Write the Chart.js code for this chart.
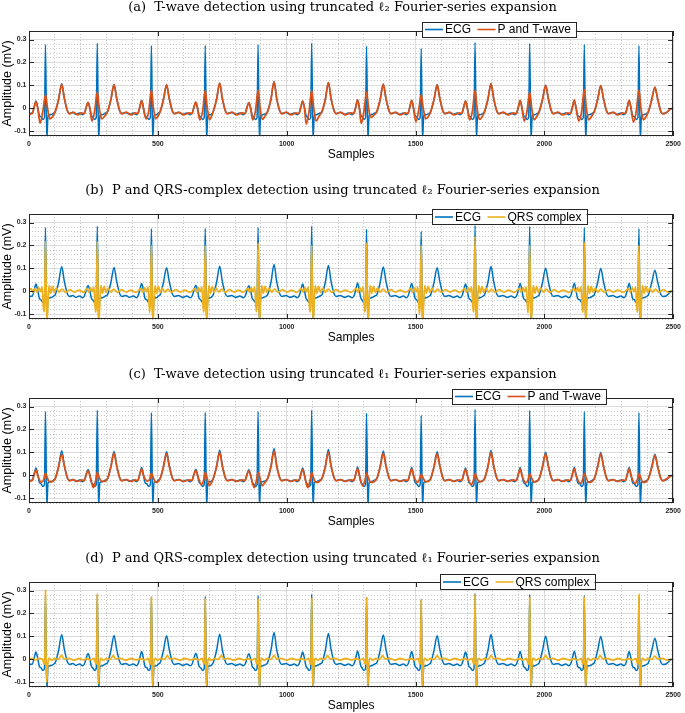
<!DOCTYPE html>
<html><head><meta charset="utf-8">
<script src="https://cdn.jsdelivr.net/npm/chart.js@4.4.1/dist/chart.umd.min.js"></script>
<style>
html,body{margin:0;padding:0;background:#fff;overflow:hidden;width:685px;height:713px;}
.p{position:absolute;left:0;width:685px;height:162px;}
canvas{display:block;}
</style></head><body>
<div class="p" style="top:0px"><canvas id="c0" width="685" height="162" style="width:685px;height:162px"></canvas></div>
<div class="p" style="top:183px"><canvas id="c1" width="685" height="162" style="width:685px;height:162px"></canvas></div>
<div class="p" style="top:367px"><canvas id="c2" width="685" height="162" style="width:685px;height:162px"></canvas></div>
<div class="p" style="top:551px"><canvas id="c3" width="685" height="162" style="width:685px;height:162px"></canvas></div>
<script>
// ---------- data ----------
const panelTitles = [
  '(a)  T-wave detection using truncated \u2113\u2082 Fourier-series expansion',
  '(b)  P and QRS-complex detection using truncated \u2113\u2082 Fourier-series expansion',
  '(c)  T-wave detection using truncated \u2113\u2081 Fourier-series expansion',
  '(d)  P and QRS-complex detection using truncated \u2113\u2081 Fourier-series expansion'
];
const seriesNames = ['ECG', 'P and T-wave', 'QRS complex'];
const xTicks = [0, 500, 1000, 1500, 2000, 2500];
const xTickLabels = ['0', '500', '1000', '1500', '2000', '2500'];
const yTicks = [-0.1, 0, 0.1, 0.2, 0.3];
const yTickLabels = ['-0.1', '0', '0.1', '0.2', '0.3'];
const xLabel = 'Samples';
const yLabel = 'Amplitude (mV)';

// [sample, mV]
const ecg = [
[0,-0.022],[13,-0.02],[20,0.006],[27,0.032],[34,0.004],[40,-0.03],[46,-0.036],[54,-0.048],[60,-0.04],[64,0.278],[69,-0.14],[74,-0.03],[84,-0.027],[96,-0.02],[102,-0.014],[115,0.04],[127,0.107],[137,0.045],[149,-0.01],[157,-0.022],[170,-0.018],[182,-0.026],[196,-0.02],[208,-0.027],
[215,-0.02],[222,0.005],[229,0.026],[236,0.004],[242,-0.03],[247,-0.036],[255,-0.048],[261,-0.04],[265,0.284],[270,-0.14],[275,-0.03],[285,-0.027],[297,-0.02],[305,-0.014],[318,0.04],[330,0.104],[340,0.045],[352,-0.01],[360,-0.022],[375,-0.018],[390,-0.026],[405,-0.02],[418,-0.027],
[423,-0.02],[430,0.006],[437,0.035],[444,0.004],[450,-0.03],[457,-0.036],[465,-0.048],[471,-0.04],[475,0.274],[480,-0.14],[485,-0.03],[495,-0.027],[502,-0.02],[509,-0.014],[522,0.04],[534,0.103],[544,0.045],[556,-0.01],[564,-0.022],[580,-0.018],[596,-0.026],[612,-0.02],[626,-0.027],
[633,-0.02],[640,0.005],[647,0.027],[654,0.004],[660,-0.03],[666,-0.036],[674,-0.048],[680,-0.04],[684,0.275],[689,-0.14],[694,-0.03],[704,-0.027],[712,-0.02],[715,-0.014],[728,0.04],[740,0.11],[750,0.045],[762,-0.01],[770,-0.022],[786,-0.018],[802,-0.026],[818,-0.02],[832,-0.027],
[839,-0.02],[846,0.005],[853,0.025],[860,0.004],[866,-0.03],[871,-0.036],[879,-0.048],[885,-0.04],[889,0.278],[894,-0.14],[899,-0.03],[909,-0.027],[921,-0.02],[926,-0.014],[939,0.04],[951,0.117],[961,0.045],[973,-0.01],[981,-0.022],[997,-0.018],[1013,-0.026],[1029,-0.02],[1041,-0.027],
[1048,-0.02],[1055,0.006],[1062,0.032],[1069,0.004],[1075,-0.03],[1079,-0.036],[1087,-0.048],[1093,-0.04],[1097,0.284],[1102,-0.14],[1107,-0.03],[1117,-0.027],[1129,-0.02],[1137,-0.014],[1150,0.04],[1162,0.113],[1172,0.045],[1184,-0.01],[1192,-0.022],[1208,-0.018],[1224,-0.026],[1240,-0.02],[1254,-0.027],
[1261,-0.02],[1268,0.006],[1275,0.037],[1282,0.004],[1288,-0.03],[1292,-0.036],[1300,-0.048],[1306,-0.04],[1310,0.271],[1315,-0.14],[1320,-0.03],[1330,-0.027],[1342,-0.02],[1350,-0.014],[1363,0.04],[1375,0.106],[1385,0.045],[1397,-0.01],[1405,-0.022],[1421,-0.018],[1437,-0.026],[1453,-0.02],[1464,-0.027],
[1471,-0.02],[1478,0.006],[1485,0.035],[1492,0.004],[1498,-0.03],[1504,-0.036],[1512,-0.048],[1518,-0.04],[1522,0.262],[1527,-0.14],[1532,-0.03],[1542,-0.027],[1554,-0.02],[1559,-0.014],[1572,0.04],[1584,0.103],[1594,0.045],[1606,-0.01],[1614,-0.022],[1630,-0.018],[1646,-0.026],[1662,-0.02],[1673,-0.027],
[1680,-0.02],[1687,0.006],[1694,0.032],[1701,0.004],[1707,-0.03],[1713,-0.036],[1721,-0.048],[1727,-0.04],[1731,0.288],[1736,-0.14],[1741,-0.03],[1751,-0.027],[1763,-0.02],[1768,-0.014],[1781,0.04],[1793,0.108],[1803,0.045],[1815,-0.01],[1823,-0.022],[1839,-0.018],[1855,-0.026],[1871,-0.02],[1885,-0.027],
[1892,-0.02],[1899,0.006],[1906,0.035],[1913,0.004],[1919,-0.03],[1925,-0.036],[1933,-0.048],[1939,-0.04],[1943,0.283],[1948,-0.14],[1953,-0.03],[1963,-0.027],[1975,-0.02],[1980,-0.014],[1993,0.04],[2005,0.101],[2015,0.045],[2027,-0.01],[2035,-0.022],[2051,-0.018],[2067,-0.026],[2083,-0.02],[2095,-0.027],
[2102,-0.02],[2109,0.006],[2116,0.036],[2123,0.004],[2129,-0.03],[2137,-0.036],[2145,-0.048],[2151,-0.04],[2155,0.278],[2160,-0.14],[2165,-0.03],[2175,-0.027],[2187,-0.02],[2194,-0.014],[2207,0.04],[2219,0.1],[2229,0.045],[2241,-0.01],[2249,-0.022],[2265,-0.018],[2281,-0.026],[2297,-0.02],[2308,-0.027],
[2315,-0.02],[2322,0.006],[2329,0.035],[2336,0.004],[2342,-0.03],[2349,-0.036],[2357,-0.048],[2363,-0.04],[2367,0.274],[2372,-0.14],[2377,-0.03],[2387,-0.027],[2399,-0.02],[2404,-0.014],[2417,0.04],[2429,0.092],[2439,0.045],[2451,-0.01],[2459,-0.022],[2472,-0.02],[2484,-0.008],[2492,0.0],[2500,-0.002]
];

const ptWaveL2 = [
[0,-0.025],[13,-0.022],[20,0.006],[27,0.03],[34,0.0],[43,-0.064],[54,-0.012],[64,0.06],[72,0.0],[81,-0.046],[92,-0.035],[102,-0.013],[115,0.04],[127,0.105],[137,0.045],[149,-0.01],[157,-0.024],[172,-0.016],[188,-0.028],[204,-0.02],
[215,-0.022],[222,0.005],[229,0.026],[236,0.0],[244,-0.055],[255,-0.01],[265,0.072],[273,0.0],[282,-0.045],[293,-0.035],[305,-0.013],[318,0.04],[330,0.103],[340,0.045],[352,-0.01],[360,-0.024],[378,-0.016],[396,-0.028],[412,-0.02],
[423,-0.022],[430,0.006],[437,0.034],[444,0.0],[454,-0.045],[465,-0.01],[475,0.082],[483,0.0],[492,-0.045],[500,-0.035],[509,-0.013],[522,0.04],[534,0.102],[544,0.045],[556,-0.01],[564,-0.024],[582,-0.016],[600,-0.028],[620,-0.02],
[633,-0.022],[640,0.005],[647,0.027],[654,0.0],[663,-0.05],[674,-0.01],[684,0.08],[692,0.0],[701,-0.05],[708,-0.035],[715,-0.013],[728,0.04],[740,0.11],[750,0.045],[762,-0.01],[770,-0.024],[788,-0.016],[806,-0.028],[826,-0.02],
[839,-0.022],[846,0.005],[853,0.025],[860,0.0],[868,-0.05],[879,-0.01],[889,0.08],[897,0.0],[906,-0.048],[915,-0.035],[926,-0.013],[939,0.04],[951,0.116],[961,0.045],[973,-0.01],[981,-0.024],[999,-0.016],[1017,-0.028],[1036,-0.02],
[1048,-0.022],[1055,0.006],[1062,0.032],[1069,0.0],[1076,-0.068],[1087,-0.012],[1097,0.08],[1105,0.0],[1114,-0.055],[1125,-0.035],[1137,-0.013],[1150,0.04],[1162,0.112],[1172,0.045],[1184,-0.01],[1192,-0.024],[1210,-0.016],[1228,-0.028],[1248,-0.02],
[1261,-0.022],[1268,0.006],[1275,0.037],[1282,0.0],[1289,-0.065],[1300,-0.012],[1310,0.072],[1318,0.0],[1327,-0.04],[1338,-0.03],[1350,-0.013],[1363,0.04],[1375,0.105],[1385,0.045],[1397,-0.01],[1405,-0.024],[1423,-0.016],[1441,-0.028],[1460,-0.02],
[1471,-0.022],[1478,0.006],[1485,0.035],[1492,0.0],[1501,-0.058],[1512,-0.01],[1522,0.06],[1530,0.0],[1539,-0.045],[1550,-0.035],[1559,-0.013],[1572,0.04],[1584,0.102],[1594,0.045],[1606,-0.01],[1614,-0.024],[1632,-0.016],[1650,-0.028],[1670,-0.02],
[1680,-0.022],[1687,0.006],[1694,0.032],[1701,0.0],[1710,-0.05],[1721,-0.01],[1731,0.08],[1739,0.0],[1748,-0.048],[1759,-0.035],[1768,-0.013],[1781,0.04],[1793,0.107],[1803,0.045],[1815,-0.01],[1823,-0.024],[1841,-0.016],[1859,-0.028],[1880,-0.02],
[1892,-0.022],[1899,0.006],[1906,0.035],[1913,0.0],[1922,-0.055],[1933,-0.01],[1943,0.072],[1951,0.0],[1960,-0.05],[1971,-0.035],[1980,-0.013],[1993,0.04],[2005,0.1],[2015,0.045],[2027,-0.01],[2035,-0.024],[2053,-0.016],[2071,-0.028],[2092,-0.02],
[2102,-0.022],[2109,0.006],[2116,0.036],[2123,0.0],[2134,-0.055],[2145,-0.01],[2155,0.082],[2163,0.0],[2172,-0.05],[2183,-0.035],[2194,-0.013],[2207,0.04],[2219,0.099],[2229,0.045],[2241,-0.01],[2249,-0.024],[2267,-0.016],[2285,-0.028],[2305,-0.02],
[2315,-0.022],[2322,0.006],[2329,0.035],[2336,0.0],[2346,-0.06],[2357,-0.01],[2367,0.08],[2375,0.0],[2384,-0.05],[2395,-0.035],[2404,-0.013],[2417,0.04],[2429,0.093],[2439,0.045],[2451,-0.01],[2459,-0.024],[2474,-0.018],[2488,-0.004],[2500,0.0]
];

const qrsL2 = [
[0,0.004],[8,0.012],[16,-0.003],[24,0.012],[31,-0.004],[38,0.016],[45,-0.002],[51,0.02],[57,-0.088],[61,-0.02],[64,0.218],[67,-0.03],[70,-0.135],[74,-0.035],[78,0.025],[84,-0.008],[91,0.022],[98,-0.004],[106,0.014],[116,-0.003],[128,0.01],[142,-0.004],[158,0.008],[176,-0.003],[194,0.006],[212,-0.004],
[225,0.012],[232,-0.004],[239,0.016],[246,-0.002],[252,0.02],[258,-0.09],[262,-0.02],[265,0.218],[268,-0.03],[271,-0.135],[275,-0.035],[279,0.025],[285,-0.008],[292,0.022],[299,-0.004],[307,0.014],[317,-0.003],[329,0.01],[343,-0.004],[359,0.008],[377,-0.003],[395,0.006],[415,-0.004],
[435,0.012],[442,-0.004],[449,0.016],[456,-0.002],[462,0.02],[468,-0.092],[472,-0.02],[475,0.2],[478,-0.03],[481,-0.135],[485,-0.035],[489,0.025],[495,-0.008],[502,0.022],[509,-0.004],[517,0.014],[527,-0.003],[539,0.01],[553,-0.004],[569,0.008],[587,-0.003],[605,0.006],[625,-0.004],
[644,0.012],[651,-0.004],[658,0.016],[665,-0.002],[671,0.02],[677,-0.09],[681,-0.02],[684,0.2],[687,-0.03],[690,-0.135],[694,-0.035],[698,0.025],[704,-0.008],[711,0.022],[718,-0.004],[726,0.014],[736,-0.003],[748,0.01],[762,-0.004],[778,0.008],[796,-0.003],[814,0.006],[830,-0.004],
[849,0.012],[856,-0.004],[863,0.016],[870,-0.002],[876,0.02],[882,-0.088],[886,-0.02],[889,0.21],[892,-0.03],[895,-0.135],[899,-0.035],[903,0.025],[909,-0.008],[916,0.022],[923,-0.004],[931,0.014],[941,-0.003],[953,0.01],[967,-0.004],[983,0.008],[1001,-0.003],[1019,0.006],[1039,-0.004],
[1057,0.012],[1064,-0.004],[1071,0.016],[1078,-0.002],[1084,0.02],[1090,-0.09],[1094,-0.02],[1097,0.2],[1100,-0.03],[1103,-0.135],[1107,-0.035],[1111,0.025],[1117,-0.008],[1124,0.022],[1131,-0.004],[1139,0.014],[1149,-0.003],[1161,0.01],[1175,-0.004],[1191,0.008],[1209,-0.003],[1227,0.006],[1250,-0.004],
[1270,0.012],[1277,-0.004],[1284,0.016],[1291,-0.002],[1297,0.02],[1303,-0.09],[1307,-0.02],[1310,0.21],[1313,-0.03],[1316,-0.135],[1320,-0.035],[1324,0.025],[1330,-0.008],[1337,0.022],[1344,-0.004],[1352,0.014],[1362,-0.003],[1374,0.01],[1388,-0.004],[1404,0.008],[1422,-0.003],[1440,0.006],[1462,-0.004],
[1482,0.012],[1489,-0.004],[1496,0.016],[1503,-0.002],[1509,0.02],[1515,-0.1],[1519,-0.02],[1522,0.2],[1525,-0.03],[1528,-0.135],[1532,-0.035],[1536,0.025],[1542,-0.008],[1549,0.022],[1556,-0.004],[1564,0.014],[1574,-0.003],[1586,0.01],[1600,-0.004],[1616,0.008],[1634,-0.003],[1652,0.006],[1671,-0.004],
[1691,0.012],[1698,-0.004],[1705,0.016],[1712,-0.002],[1718,0.02],[1724,-0.09],[1728,-0.02],[1731,0.24],[1734,-0.03],[1737,-0.135],[1741,-0.035],[1745,0.025],[1751,-0.008],[1758,0.022],[1765,-0.004],[1773,0.014],[1783,-0.003],[1795,0.01],[1809,-0.004],[1825,0.008],[1843,-0.003],[1861,0.006],[1883,-0.004],
[1903,0.012],[1910,-0.004],[1917,0.016],[1924,-0.002],[1930,0.02],[1936,-0.095],[1940,-0.02],[1943,0.2],[1946,-0.03],[1949,-0.135],[1953,-0.035],[1957,0.025],[1963,-0.008],[1970,0.022],[1977,-0.004],[1985,0.014],[1995,-0.003],[2007,0.01],[2021,-0.004],[2037,0.008],[2055,-0.003],[2073,0.006],[2095,-0.004],
[2115,0.012],[2122,-0.004],[2129,0.016],[2136,-0.002],[2142,0.02],[2148,-0.09],[2152,-0.02],[2155,0.215],[2158,-0.03],[2161,-0.135],[2165,-0.035],[2169,0.025],[2175,-0.008],[2182,0.022],[2189,-0.004],[2197,0.014],[2207,-0.003],[2219,0.01],[2233,-0.004],[2249,0.008],[2267,-0.003],[2285,0.006],[2307,-0.004],
[2327,0.012],[2334,-0.004],[2341,0.016],[2348,-0.002],[2354,0.02],[2360,-0.09],[2364,-0.02],[2367,0.2],[2370,-0.03],[2373,-0.135],[2377,-0.035],[2381,0.025],[2387,-0.008],[2394,0.022],[2401,-0.004],[2409,0.014],[2419,-0.003],[2431,0.01],[2445,-0.004],[2461,0.008],[2479,-0.003],[2500,0.006]
];

const ptWaveL1 = [
[0,-0.025],[13,-0.022],[20,0.005],[27,0.024],[34,0.0],[48,-0.03],[57,-0.018],[64,0.01],[71,-0.01],[80,-0.028],[92,-0.026],[102,-0.013],[115,0.038],[127,0.092],[137,0.042],[149,-0.01],[157,-0.024],[172,-0.018],[188,-0.026],[204,-0.02],
[215,-0.022],[222,0.004],[229,0.02],[236,0.0],[250,-0.053],[259,-0.02],[265,0.013],[272,-0.008],[281,-0.025],[293,-0.026],[305,-0.013],[318,0.038],[330,0.097],[340,0.042],[352,-0.01],[360,-0.024],[378,-0.018],[396,-0.026],[412,-0.02],
[423,-0.022],[430,0.005],[437,0.028],[444,0.0],[460,-0.025],[469,-0.015],[475,0.01],[482,-0.008],[491,-0.03],[500,-0.028],[509,-0.013],[522,0.038],[534,0.095],[544,0.042],[556,-0.01],[564,-0.024],[582,-0.018],[600,-0.026],[620,-0.02],
[633,-0.022],[640,0.004],[647,0.022],[654,0.0],[669,-0.04],[678,-0.02],[684,0.013],[691,-0.01],[700,-0.045],[708,-0.032],[715,-0.013],[728,0.038],[740,0.1],[750,0.042],[762,-0.01],[770,-0.024],[788,-0.018],[806,-0.026],[826,-0.02],
[839,-0.022],[846,0.004],[853,0.02],[860,0.0],[874,-0.053],[883,-0.02],[889,0.013],[896,-0.01],[905,-0.045],[915,-0.032],[926,-0.013],[939,0.038],[951,0.106],[961,0.042],[973,-0.01],[981,-0.024],[999,-0.018],[1017,-0.026],[1036,-0.02],
[1048,-0.022],[1055,0.005],[1062,0.026],[1069,0.0],[1082,-0.053],[1091,-0.02],[1097,0.013],[1104,-0.01],[1113,-0.03],[1125,-0.028],[1137,-0.013],[1150,0.038],[1162,0.101],[1172,0.042],[1184,-0.01],[1192,-0.024],[1210,-0.018],[1228,-0.026],[1248,-0.02],
[1261,-0.022],[1268,0.005],[1275,0.03],[1282,0.0],[1295,-0.045],[1304,-0.02],[1310,0.01],[1317,-0.01],[1326,-0.03],[1338,-0.028],[1350,-0.013],[1363,0.038],[1375,0.097],[1385,0.042],[1397,-0.01],[1405,-0.024],[1423,-0.018],[1441,-0.026],[1460,-0.02],
[1471,-0.022],[1478,0.005],[1485,0.028],[1492,0.0],[1507,-0.03],[1516,-0.015],[1522,0.005],[1529,-0.01],[1538,-0.027],[1550,-0.026],[1559,-0.013],[1572,0.038],[1584,0.095],[1594,0.042],[1606,-0.01],[1614,-0.024],[1632,-0.018],[1650,-0.026],[1670,-0.02],
[1680,-0.022],[1687,0.005],[1694,0.026],[1701,0.0],[1716,-0.04],[1725,-0.02],[1731,0.008],[1738,-0.01],[1747,-0.027],[1759,-0.026],[1768,-0.013],[1781,0.038],[1793,0.1],[1803,0.042],[1815,-0.01],[1823,-0.024],[1841,-0.018],[1859,-0.026],[1880,-0.02],
[1892,-0.022],[1899,0.005],[1906,0.028],[1913,0.0],[1928,-0.032],[1937,-0.018],[1943,0.008],[1950,-0.01],[1959,-0.028],[1971,-0.026],[1980,-0.013],[1993,0.038],[2005,0.094],[2015,0.042],[2027,-0.01],[2035,-0.024],[2053,-0.018],[2071,-0.026],[2092,-0.02],
[2102,-0.022],[2109,0.005],[2116,0.029],[2123,0.0],[2140,-0.035],[2149,-0.018],[2155,0.008],[2162,-0.01],[2171,-0.03],[2183,-0.028],[2194,-0.013],[2207,0.038],[2219,0.094],[2229,0.042],[2241,-0.01],[2249,-0.024],[2267,-0.018],[2285,-0.026],[2305,-0.02],
[2315,-0.022],[2322,0.005],[2329,0.028],[2336,0.0],[2352,-0.035],[2361,-0.018],[2367,0.008],[2374,-0.01],[2383,-0.03],[2395,-0.028],[2404,-0.013],[2417,0.035],[2429,0.087],[2439,0.04],[2451,-0.01],[2459,-0.024],[2474,-0.015],[2488,-0.004],[2500,0.0]
];

const qrsL1 = [
[0,0.002],[12,0.005],[24,-0.002],[38,0.004],[52,0.002],[59,-0.02],[62,0.03],[64,0.3],[66,0.02],[69,-0.1],[73,-0.02],[78,0.006],[88,-0.004],[100,0.004],[114,0.0],[126,0.018],[136,0.002],[154,0.005],[174,-0.003],[194,0.004],[212,-0.002],
[225,0.003],[240,-0.002],[253,0.004],[260,-0.02],[263,0.03],[265,0.283],[267,0.02],[270,-0.105],[274,-0.02],[279,0.006],[289,-0.004],[301,0.004],[315,0.0],[327,0.016],[337,0.002],[355,0.005],[375,-0.003],[395,0.004],[415,-0.002],
[435,0.003],[450,-0.002],[463,0.004],[470,-0.02],[473,0.03],[475,0.27],[477,0.02],[480,-0.125],[484,-0.02],[489,0.006],[499,-0.004],[511,0.004],[525,0.0],[537,0.016],[547,0.002],[565,0.005],[585,-0.003],[605,0.004],[625,-0.002],
[644,0.003],[659,-0.002],[672,0.004],[679,-0.02],[682,0.03],[684,0.263],[686,0.02],[689,-0.115],[693,-0.02],[698,0.006],[708,-0.004],[720,0.004],[734,0.0],[746,0.016],[756,0.002],[774,0.005],[794,-0.003],[814,0.004],[834,-0.002],
[849,0.003],[864,-0.002],[877,0.004],[884,-0.02],[887,0.03],[889,0.26],[891,0.02],[894,-0.125],[898,-0.02],[903,0.006],[913,-0.004],[925,0.004],[939,0.0],[951,0.018],[961,0.002],[979,0.005],[999,-0.003],[1019,0.004],[1039,-0.002],
[1057,0.003],[1072,-0.002],[1085,0.004],[1092,-0.02],[1095,0.03],[1097,0.265],[1099,0.02],[1102,-0.125],[1106,-0.02],[1111,0.006],[1121,-0.004],[1133,0.004],[1147,0.0],[1159,0.016],[1169,0.002],[1187,0.005],[1207,-0.003],[1227,0.004],[1250,-0.002],
[1270,0.003],[1285,-0.002],[1298,0.004],[1305,-0.02],[1308,0.03],[1310,0.268],[1312,0.02],[1315,-0.12],[1319,-0.02],[1324,0.006],[1334,-0.004],[1346,0.004],[1360,0.0],[1372,0.016],[1382,0.002],[1400,0.005],[1420,-0.003],[1440,0.004],[1462,-0.002],
[1482,0.003],[1497,-0.002],[1510,0.004],[1517,-0.02],[1520,0.03],[1522,0.26],[1524,0.02],[1527,-0.125],[1531,-0.02],[1536,0.006],[1546,-0.004],[1558,0.004],[1572,0.0],[1584,0.016],[1594,0.002],[1612,0.005],[1632,-0.003],[1652,0.004],[1671,-0.002],
[1691,0.003],[1706,-0.002],[1719,0.004],[1726,-0.02],[1729,0.03],[1731,0.283],[1733,0.02],[1736,-0.125],[1740,-0.02],[1745,0.006],[1755,-0.004],[1767,0.004],[1781,0.0],[1793,0.016],[1803,0.002],[1821,0.005],[1841,-0.003],[1861,0.004],[1883,-0.002],
[1903,0.003],[1918,-0.002],[1931,0.004],[1938,-0.02],[1941,0.03],[1943,0.27],[1945,0.02],[1948,-0.125],[1952,-0.02],[1957,0.006],[1967,-0.004],[1979,0.004],[1993,0.0],[2005,0.016],[2015,0.002],[2033,0.005],[2053,-0.003],[2073,0.004],[2095,-0.002],
[2115,0.003],[2130,-0.002],[2143,0.004],[2150,-0.02],[2153,0.03],[2155,0.27],[2157,0.02],[2160,-0.125],[2164,-0.02],[2169,0.006],[2179,-0.004],[2191,0.004],[2205,0.0],[2217,0.016],[2227,0.002],[2245,0.005],[2265,-0.003],[2285,0.004],[2307,-0.002],
[2327,0.003],[2342,-0.002],[2355,0.004],[2362,-0.02],[2365,0.03],[2367,0.283],[2369,0.02],[2372,-0.125],[2376,-0.02],[2381,0.006],[2391,-0.004],[2403,0.004],[2417,0.0],[2429,0.014],[2439,0.002],[2457,0.005],[2477,-0.003],[2500,0.004]
];

// ---------- styling ----------
const BLUE = '#0072BD', ORANGE = '#D95319', YELLOW = '#EDB120';
const SANS = "'Liberation Sans', Arial, Helvetica, sans-serif";
const SERIF = "'DejaVu Serif', 'Liberation Serif', serif";
const AXC = '#262626';

const framePlugin = {
  id: 'frame',
  afterDatasetsDraw(chart, args, opts) {
    const {ctx, chartArea: a, scales} = chart;
    ctx.save();
    ctx.strokeStyle = AXC;
    ctx.lineWidth = 1;
    const tl = 5;
    ctx.beginPath();
    xTicks.forEach(v => {
      const px = Math.round(scales.x.getPixelForValue(v)) + 0.5;
      ctx.moveTo(px, a.bottom); ctx.lineTo(px, a.bottom - tl);
      ctx.moveTo(px, a.top); ctx.lineTo(px, a.top + tl);
    });
    yTicks.forEach(v => {
      const py = Math.round(scales.y.getPixelForValue(v)) + 0.5;
      ctx.moveTo(a.left, py); ctx.lineTo(a.left + tl, py);
      ctx.moveTo(a.right, py); ctx.lineTo(a.right - tl, py);
    });
    ctx.stroke();
    ctx.strokeRect(Math.round(a.left) + 0.5, Math.round(a.top) + 0.5, Math.round(a.right - a.left) - 1, Math.round(a.bottom - a.top) - 1);
    // legend box
    const lx = a.left + opts.left, ly = a.top + opts.top, lh = 15;
    ctx.font = '12px ' + SANS;
    const items = chart.data.datasets.map(d => ({label: d.label, color: d.borderColor, w: ctx.measureText(d.label).width}));
    let w = 3;
    items.forEach((it, i) => { w += 18 + 2 + it.w + (i < items.length - 1 ? 6.5 : 5); });
    ctx.fillStyle = '#fff';
    ctx.fillRect(lx, ly, w, lh);
    ctx.strokeStyle = AXC;
    ctx.strokeRect(Math.round(lx) + 0.5, Math.round(ly) + 0.5, Math.round(w), lh);
    let cx = lx + 3;
    const cy = ly + lh / 2 + 0.5;
    items.forEach((it) => {
      ctx.strokeStyle = it.color; ctx.lineWidth = 1.6;
      ctx.beginPath(); ctx.moveTo(cx, cy); ctx.lineTo(cx + 18, cy); ctx.stroke();
      cx += 20;
      ctx.fillStyle = '#000'; ctx.textBaseline = 'middle'; ctx.textAlign = 'left';
      ctx.fillText(it.label, cx, cy + 0.5);
      cx += it.w + 6.5;
    });
    ctx.restore();
  }
};

function isMajor(v, step) { return Math.abs(v / step - Math.round(v / step)) < 1e-6; }

function makeChart(id, title, overlay, overlayName, overlayColor, legendPos) {
  const toXY = arr => arr.map(([x, y]) => ({x, y}));
  return new Chart(document.getElementById(id), {
    type: 'line',
    data: {
      datasets: [
        {label: seriesNames[0], data: toXY(ecg), borderColor: BLUE, borderWidth: 1.5, pointRadius: 0, fill: false,
         cubicInterpolationMode: 'monotone', order: 2, xAxisID: 'x', yAxisID: 'y'},
        {label: overlayName, data: toXY(overlay), borderColor: overlayColor, borderWidth: 1.8, pointRadius: 0, fill: false,
         cubicInterpolationMode: 'monotone', order: 1, xAxisID: 'x', yAxisID: 'y'}
      ]
    },
    options: {
      responsive: false, animation: false, events: [],
      layout: {padding: 0},
      plugins: {
        legend: {display: false}, tooltip: {enabled: false},
        title: {display: true, text: title, color: '#000', font: {family: SERIF, size: 13, weight: 'normal'}, padding: {top: 0, bottom: 15.4}},
        frame: legendPos
      },
      scales: {
        x: {
          type: 'linear', axis: 'x', position: 'bottom', min: 0, max: 2500,
          afterBuildTicks: s => { s.ticks = xTicks.map(v => ({value: v})); },
          afterFit: s => { s.height = 26; },
          ticks: {padding: 4, maxRotation: 0, autoSkip: false, color: AXC, font: {family: SANS, size: 7, weight: 'bold'},
                  callback: (v) => xTickLabels[xTicks.indexOf(v)]},
          grid: {color: 'rgba(38,38,38,0.16)', lineWidth: 1, drawTicks: false},
          border: {display: false},
          title: {display: true, text: xLabel, color: '#000', font: {family: SANS, size: 12}, padding: {top: 0, bottom: 0}}
        },
        xm: {
          type: 'linear', axis: 'x', position: 'bottom', min: 0, max: 2500,
          afterFit: s => { s.height = 0; },
          ticks: {display: false, stepSize: 100},
          grid: {drawTicks: false, lineWidth: 1, color: c => (c.tick && isMajor(c.tick.value, 500)) ? 'rgba(0,0,0,0)' : 'rgba(38,38,38,0.26)'},
          border: {display: false, dash: [1, 2]}
        },
        y: {
          type: 'linear', axis: 'y', position: 'left', min: -0.12, max: 0.337,
          afterBuildTicks: s => { s.ticks = yTicks.map(v => ({value: v})); },
          afterFit: s => { s.width = 29; },
          ticks: {padding: 2.5, color: AXC, font: {family: SANS, size: 7, weight: 'bold'},
                  callback: (v) => yTickLabels[yTicks.indexOf(v)]},
          grid: {color: 'rgba(38,38,38,0.16)', lineWidth: 1, drawTicks: false},
          border: {display: false},
          title: {display: true, text: yLabel, color: '#000', font: {family: SANS, size: 12.5}, padding: {top: 0, bottom: 0}}
        },
        ym: {
          type: 'linear', axis: 'y', position: 'left', min: -0.12, max: 0.337,
          afterFit: s => { s.width = 0; },
          ticks: {display: false, stepSize: 0.02},
          grid: {drawTicks: false, lineWidth: 1, color: c => (c.tick && isMajor(c.tick.value, 0.1)) ? 'rgba(0,0,0,0)' : 'rgba(38,38,38,0.26)'},
          border: {display: false, dash: [1, 2]}
        },
        yr: {
          type: 'linear', axis: 'y', position: 'right', min: 0, max: 1,
          afterFit: s => { s.width = 8; },
          ticks: {display: false}, grid: {display: false}, border: {display: false}
        }
      }
    },
    plugins: [framePlugin]
  });
}

makeChart('c0', panelTitles[0], ptWaveL2, seriesNames[1], ORANGE, {left: 393, top: -9.5});
makeChart('c1', panelTitles[1], qrsL2, seriesNames[2], YELLOW, {left: 403, top: -5});
makeChart('c2', panelTitles[2], ptWaveL1, seriesNames[1], ORANGE, {left: 423, top: -9.5});
makeChart('c3', panelTitles[3], qrsL1, seriesNames[2], YELLOW, {left: 411, top: -8});
</script>
</body></html>
